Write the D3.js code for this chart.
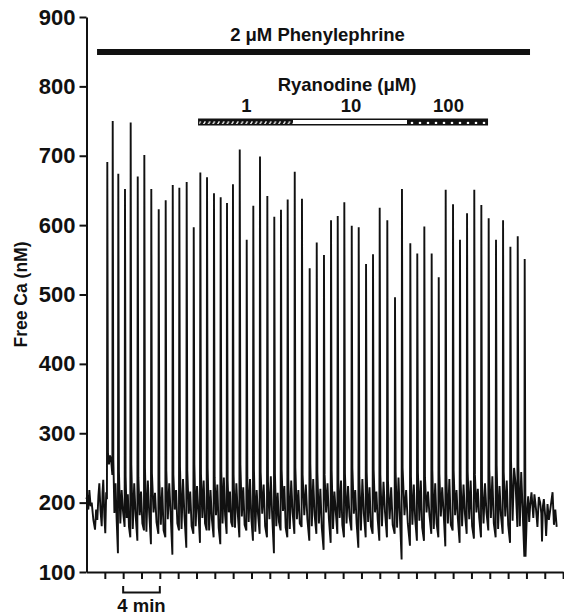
<!DOCTYPE html>
<html>
<head>
<meta charset="utf-8">
<script src="https://cdn.jsdelivr.net/npm/d3@7"></script>
<style>
  body { margin: 0; background: #fff; }
  text { font-family: "Liberation Sans", Arial, sans-serif; font-weight: bold; fill: #111; }
</style>
</head>
<body>
<div class="chart"></div>
<script>
// spike times (min) and peak free Ca (nM)
const spikeTimes = [
  2.27, 2.86, 3.47, 4.20, 4.82, 5.59, 6.31, 7.07, 7.88, 8.64,
  9.41, 10.13, 10.93, 11.70, 12.42, 13.15, 13.91, 14.64, 15.33, 15.98,
  16.72, 17.48, 18.20, 18.93, 19.73, 20.49, 21.22, 21.95, 22.72, 23.51,
  24.35, 25.12, 25.91, 26.68, 27.41, 28.13, 28.94, 29.70, 30.50, 31.26,
  31.99, 32.82, 33.66, 34.42, 35.33, 36.09, 36.86, 37.66, 38.43, 39.19,
  39.99, 40.75, 41.52, 42.31, 43.08, 43.88, 44.68, 45.45, 46.25, 47.05,
  47.81
];
const spikePeaks = [
  691, 750, 674, 652, 748, 670, 701, 652, 623, 636,
  658, 654, 662, 597, 676, 669, 646, 640, 632, 659,
  709, 579, 628, 699, 642, 612, 622, 637, 677, 638,
  538, 575, 557, 607, 613, 633, 599, 597, 544, 558,
  625, 607, 496, 652, 574, 559, 598, 559, 525, 651,
  630, 579, 617, 651, 629, 610, 579, 607, 569, 584,
  551
];
// baseline just before each spike
const troughs = [
  205, 240, 127, 165, 150, 145, 160, 140, 155, 150,
  125, 160, 135, 155, 142, 160, 150, 140, 155, 165,
  150, 160, 145, 155, 150, 127, 160, 150, 155, 165,
  145, 155, 132, 142, 155, 150, 160, 135, 150, 155,
  145, 150, 155, 118, 138, 145, 145, 155, 150, 137,
  160, 142, 155, 148, 150, 160, 150, 155, 142, 165,
  122
];
// baseline between spikes: shoulder after the spike, dip, bump, late dip
const shoulders = [
  272, 262, 245, 238, 255, 236, 250, 242, 232, 246,
  240, 252, 246, 255, 242, 250, 236, 245, 232, 240,
  255, 236, 248, 244, 230, 242, 248, 234, 250, 240,
  256, 244, 240, 246, 232, 242, 250, 236, 244, 248,
  240, 232, 244, 250, 238, 244, 236, 248, 242, 240,
  246, 234, 244, 240, 230, 248, 254, 244, 260, 252
];
const midLows = [
  255, 185, 170, 178, 162, 182, 158, 186, 168, 176,
  190, 162, 184, 166, 178, 160, 182, 170, 186, 164,
  180, 172, 158, 184, 176, 166, 188, 162, 176, 182,
  166, 170, 186, 162, 178, 170, 184, 160, 172, 186,
  166, 176, 164, 182, 168, 174, 186, 162, 180, 170,
  182, 166, 176, 186, 170, 178, 162, 180, 174, 166
];
const midHighs = [
  268, 228, 218, 212, 228, 216, 232, 214, 222, 228,
  218, 234, 216, 224, 232, 218, 226, 236, 216, 228,
  222, 234, 218, 226, 238, 214, 224, 232, 218, 226,
  234, 220, 228, 216, 232, 224, 218, 234, 222, 216,
  230, 222, 236, 218, 226, 232, 216, 228, 222, 234,
  218, 226, 232, 220, 228, 238, 224, 232, 250, 244
];
const lateDips = [
  262, 176, 188, 165, 182, 170, 186, 172, 160, 184,
  170, 180, 166, 188, 170, 176, 164, 182, 172, 186,
  168, 178, 184, 166, 180, 172, 164, 186, 170, 176,
  182, 164, 176, 188, 168, 180, 170, 184, 166, 176,
  186, 168, 180, 170, 176, 164, 182, 170, 186, 168,
  176, 184, 166, 178, 186, 170, 182, 168, 228, 190
];
// resting trace before phenylephrine and after the last spike [min, nM]
const preTrace = [
  [0.0, 205], [0.09, 211], [0.20, 190], [0.31, 218], [0.45, 195], [0.57, 200], [0.75, 175],
  [0.93, 161], [1.05, 190], [1.18, 175], [1.30, 210], [1.40, 228], [1.52, 190],
  [1.66, 166], [1.75, 215], [1.83, 233], [1.95, 180], [2.05, 156], [2.15, 215]
];
const postTrace = [
  [47.90, 122], [48.05, 185], [48.19, 209], [48.30, 172], [48.40, 195], [48.55, 215], [48.75, 178],
  [48.87, 212], [49.05, 190], [49.20, 165], [49.35, 208], [49.50, 200], [49.62, 185],
  [49.70, 144], [49.80, 195], [49.90, 205], [50.05, 180], [50.15, 152], [50.30, 198],
  [50.45, 175], [50.60, 190], [50.75, 205], [50.85, 215], [51.00, 168], [51.15, 190],
  [51.30, 165]
];

const yTicks = [100, 200, 300, 400, 500, 600, 700, 800, 900];
const xTicks = [2, 4, 6, 8, 10, 12, 14, 16, 18, 20, 22, 24, 26, 28, 30, 32, 34, 36, 38, 40, 42, 44, 46, 48, 50, 52];

// drug applications (min)
const phenylephrine = { label: "2 \u03bcM Phenylephrine", start: 1.15, end: 48.39 };
const ryanodineDoses = ["1", "10", "100"];
const ryanodineStarts = [12.17, 22.53, 34.97];
const ryanodineEnds = [22.53, 34.97, 43.81];
const ryanodineFills = ["url(#hatch)", "#fff", "url(#dots)"];
const scaleBar = { start: 4, end: 8, label: "4 min" };

const width = 564, height = 615;
const fontSize = "18.5px";

const svg = d3.select(".chart")
  .append("svg")
  .attr("width", width)
  .attr("height", height);

const x = d3.scaleLinear().domain([0, 52]).range([86.5, 563.1]);
const y = d3.scaleLinear().domain([100, 900]).range([572, 17]);

//patterns for the ryanodine bar
const defs = svg.append("defs");
const hatch = defs.append("pattern")
  .attr("id", "hatch")
  .attr("patternUnits", "userSpaceOnUse")
  .attr("width", 4.7).attr("height", 6);
hatch.append("rect").attr("width", 4.7).attr("height", 6).attr("fill", "#111");
hatch.append("line")
  .attr("x1", 1.2).attr("y1", 4.6).attr("x2", 3.2).attr("y2", 1.4)
  .attr("stroke", "#fff").attr("stroke-width", 1.3);

const dots = defs.append("pattern")
  .attr("id", "dots")
  .attr("patternUnits", "userSpaceOnUse")
  .attr("width", 8).attr("height", 6);
dots.append("rect").attr("width", 8).attr("height", 6).attr("fill", "#111");
dots.append("circle").attr("cx", 4).attr("cy", 3).attr("r", 1.3).attr("fill", "#fff");

//build the trace
const trace = preTrace.slice();
spikeTimes.forEach((t, i) => {
  trace.push([t - 0.04, troughs[i]]);
  trace.push([t, spikePeaks[i]]);
  if (i < spikeTimes.length - 1) {
    const d = spikeTimes[i + 1] - t;
    trace.push([t + 0.07, shoulders[i]]);
    trace.push([t + 0.3 * d, midLows[i]]);
    trace.push([t + 0.5 * d, midHighs[i]]);
    trace.push([t + 0.7 * d, lateDips[i]]);
  }
});
postTrace.forEach(p => trace.push(p));

const line = d3.line()
  .x(d => x(d[0]))
  .y(d => y(d[1]));

svg.append("path")
  .datum(trace)
  .attr("d", line)
  .attr("fill", "none")
  .attr("stroke", "#111")
  .attr("stroke-width", 1.9)
  .attr("stroke-linejoin", "miter");

//axes
const yAxis = d3.axisLeft(y)
  .tickValues(yTicks)
  .tickSize(7)
  .tickSizeOuter(0)
  .tickPadding(4);

const gy = svg.append("g")
  .attr("transform", "translate(" + x(0) + ",0)")
  .call(yAxis);

const xAxis = d3.axisBottom(x)
  .tickValues(xTicks)
  .tickSize(7)
  .tickSizeOuter(0)
  .tickFormat("");

const gx = svg.append("g")
  .attr("transform", "translate(0," + y(100) + ")")
  .call(xAxis);

[gx, gy].forEach(g => {
  g.select(".domain").attr("stroke", "#111").attr("stroke-width", 2);
  g.selectAll(".tick line").attr("stroke", "#111").attr("stroke-width", 2);
});
gy.selectAll(".tick text")
  .attr("fill", "#111")
  .style("font-size", "22px")
  .style("font-family", "'Liberation Sans', Arial, sans-serif")
  .style("font-weight", "bold");

svg.append("text")
  .attr("transform", "translate(27," + y(500) + ") rotate(-90)")
  .attr("text-anchor", "middle")
  .style("font-size", "17.5px")
  .text("Free Ca (nM)");

//phenylephrine bar
svg.append("rect")
  .attr("x", x(phenylephrine.start))
  .attr("y", 49)
  .attr("width", x(phenylephrine.end) - x(phenylephrine.start))
  .attr("height", 6)
  .attr("fill", "#111");

svg.append("text")
  .attr("x", (x(phenylephrine.start) + x(phenylephrine.end)) / 2 + 4)
  .attr("y", 41)
  .attr("text-anchor", "middle")
  .style("font-size", fontSize)
  .text(phenylephrine.label);

//ryanodine bar
const ryStart = ryanodineStarts[0], ryEnd = ryanodineEnds[ryanodineEnds.length - 1];
svg.append("text")
  .attr("x", (x(ryStart) + x(ryEnd)) / 2 + 4)
  .attr("y", 91)
  .attr("text-anchor", "middle")
  .style("font-size", fontSize)
  .text("Ryanodine (\u03bcM)");

svg.append("rect")
  .attr("x", x(ryStart))
  .attr("y", 118.5)
  .attr("width", x(ryEnd) - x(ryStart))
  .attr("height", 7)
  .attr("fill", "#111");

svg.selectAll("rect.dose")
  .data(ryanodineDoses)
  .enter()
  .append("rect")
  .attr("class", "dose")
  .attr("x", (d, i) => x(ryanodineStarts[i]) + (i === 0 ? 1.2 : 0))
  .attr("y", 120)
  .attr("width", (d, i) => x(ryanodineEnds[i]) - x(ryanodineStarts[i]) - (i === 2 ? 1.2 : 0) - (i === 0 ? 1.2 : 0))
  .attr("height", 4)
  .attr("fill", (d, i) => ryanodineFills[i]);

svg.selectAll("text.dose")
  .data(ryanodineDoses)
  .enter()
  .append("text")
  .attr("class", "dose")
  .attr("x", (d, i) => (x(ryanodineStarts[i]) + x(ryanodineEnds[i])) / 2 + 1)
  .attr("y", 112)
  .attr("text-anchor", "middle")
  .style("font-size", fontSize)
  .text(d => d);

//time scale bar
const sb = svg.append("g").attr("fill", "none").attr("stroke", "#111").attr("stroke-width", 2);
sb.append("path")
  .attr("d", "M" + x(scaleBar.start) + ",586V592.5H" + x(scaleBar.end) + "V586");

svg.append("text")
  .attr("x", (x(scaleBar.start) + x(scaleBar.end)) / 2)
  .attr("y", 612)
  .attr("text-anchor", "middle")
  .style("font-size", fontSize)
  .text(scaleBar.label);
</script>
</body>
</html>
